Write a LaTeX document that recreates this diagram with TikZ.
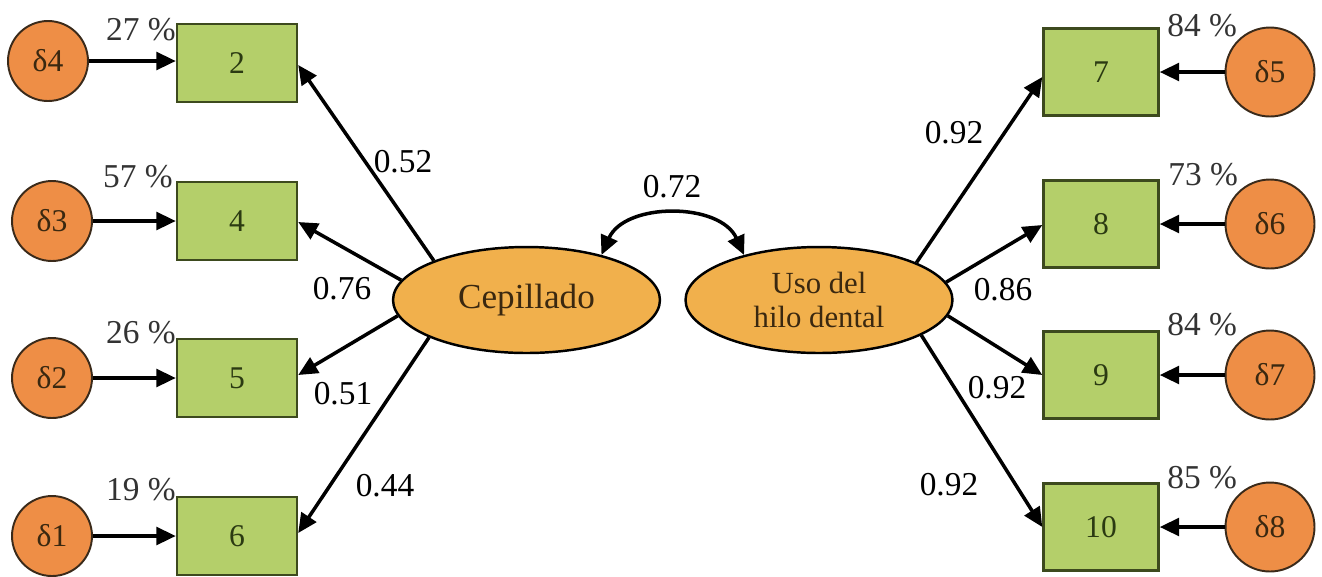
\documentclass[tikz,border=0pt]{standalone}
\usepackage{fontspec}
\setmainfont{Liberation Serif}
\usetikzlibrary{shapes.geometric,arrows.meta}
\definecolor{boxgreen}{HTML}{B4CF6A}
\definecolor{boxedge}{HTML}{3D4A1E}
\definecolor{boxtext}{HTML}{2B3A12}
\definecolor{errorange}{HTML}{EE8E46}
\definecolor{erredge}{HTML}{3A2A1A}
\definecolor{lattan}{HTML}{F1B04C}
\definecolor{darktext}{HTML}{3A2810}
\definecolor{pcttext}{HTML}{333333}
\tikzset{
  obsL/.style={draw=boxedge, line width=1.4pt, fill=boxgreen, minimum width=2.4cm, minimum height=1.56cm, inner sep=0pt, text=boxtext, font=\fontsize{18}{20}\selectfont},
  obsR/.style={obsL, minimum width=2.3cm, minimum height=1.74cm},
  errL/.style={circle, draw=erredge, line width=1.1pt, fill=errorange, minimum size=1.6cm, inner sep=0pt, text=darktext, font=\fontsize{18}{20}\selectfont},
  errR/.style={errL, minimum size=1.78cm},
  latent/.style={ellipse, draw=black, line width=1.4pt, fill=lattan, minimum width=5.34cm, minimum height=2.12cm, inner sep=0pt, align=center, text=darktext},
  coef/.style={font=\fontsize{19}{21}\selectfont, text=black, inner sep=0pt},
  pct/.style={font=\fontsize{19}{21}\selectfont, text=pcttext, inner sep=0pt},
  arr/.style={line width=2pt, -{Triangle[length=11pt,width=10pt]}},
  darr/.style={line width=2pt, {Triangle[length=11pt,width=10pt]}-{Triangle[length=11pt,width=10pt]}}
}
\begin{document}
\begin{tikzpicture}[x=0.02cm,y=-0.02cm]
\useasboundingbox (0,0) rectangle (1322,576);
% latent variables
\node[latent, font=\fontsize{20}{22}\selectfont] (cep) at (526.5,300) {Cepillado};
\node[latent, font=\fontsize{17.5}{19}\selectfont] (uso) at (819,300) {Uso del\\hilo dental};
% left observed
\node[obsL] (b2) at (237,63) {2};
\node[obsL] (b4) at (237,221) {4};
\node[obsL] (b5) at (237,378) {5};
\node[obsL] (b6) at (237,536) {6};
% left errors
\node[errL] (d4) at (48,61) {δ4};
\node[errL] (d3) at (52,221) {δ3};
\node[errL] (d2) at (52,378) {δ2};
\node[errL] (d1) at (52,536) {δ1};
% right observed
\node[obsR] (b7) at (1101,72) {7};
\node[obsR] (b8) at (1101,224) {8};
\node[obsR] (b9) at (1101,375) {9};
\node[obsR] (b10) at (1101,527) {10};
% right errors
\node[errR] (d5) at (1270,72) {δ5};
\node[errR] (d6) at (1270,224) {δ6};
\node[errR] (d7) at (1270,375) {δ7};
\node[errR] (d8) at (1270,527) {δ8};
% error arrows
\draw[arr] (d4) -- (d4 -| b2.west);
\draw[arr] (d3) -- (b4);
\draw[arr] (d2) -- (b5);
\draw[arr] (d1) -- (b6);
\draw[arr] (d5) -- (b7);
\draw[arr] (d6) -- (b8);
\draw[arr] (d7) -- (b9);
\draw[arr] (d8) -- (b10);
% loadings
\draw[arr] (cep.157.5) -- ([yshift=-0.04cm]b2.east);
\draw[arr] (cep.171.8) -- ([yshift=-0.02cm]b4.east);
\draw[arr] (cep.187.7) -- ([yshift=0.06cm]b5.east);
\draw[arr] (cep.201) -- ([yshift=0.06cm]b6.east);
\draw[arr] (uso.21.8) -- ([yshift=-0.1cm]b7.west);
\draw[arr] (uso.8.9) -- ([yshift=-0.02cm]b8.west);
\draw[arr] (uso.-7.6) -- (b9.west);
\draw[arr] (uso.-19.8) -- (b10.west);
% covariance
\coordinate (c1) at (625,202);
\coordinate (c2) at (720,202);
\draw[darr] (cep.31.5) .. controls (c1) and (c2) .. (uso.149.8);
% coefficients
\node[coef] (l052) at (403,162) {0.52};
\node[coef] (l076) at (342,289) {0.76};
\node[coef] (l051) at (343,394) {0.51};
\node[coef] (l044) at (385,486) {0.44};
\node[coef] (l072) at (672,187) {0.72};
\node[coef] (l092a) at (954,133) {0.92};
\node[coef] (l086) at (1003,290) {0.86};
\node[coef] (l092b) at (997,388) {0.92};
\node[coef] (l092c) at (949,485) {0.92};
% percentages
\node[pct, anchor=east] (p27) at (176,30) {27 \%};
\node[pct, anchor=east] (p57) at (173,177) {57 \%};
\node[pct, anchor=east] (p26) at (176,333) {26 \%};
\node[pct, anchor=east] (p19) at (176,490) {19 \%};
\node[pct, anchor=west] (p84a) at (1167,26) {84 \%};
\node[pct, anchor=west] (p73) at (1168,175) {73 \%};
\node[pct, anchor=west] (p84b) at (1167,325) {84 \%};
\node[pct, anchor=west] (p85) at (1167,478) {85 \%};
\end{tikzpicture}
\end{document}
